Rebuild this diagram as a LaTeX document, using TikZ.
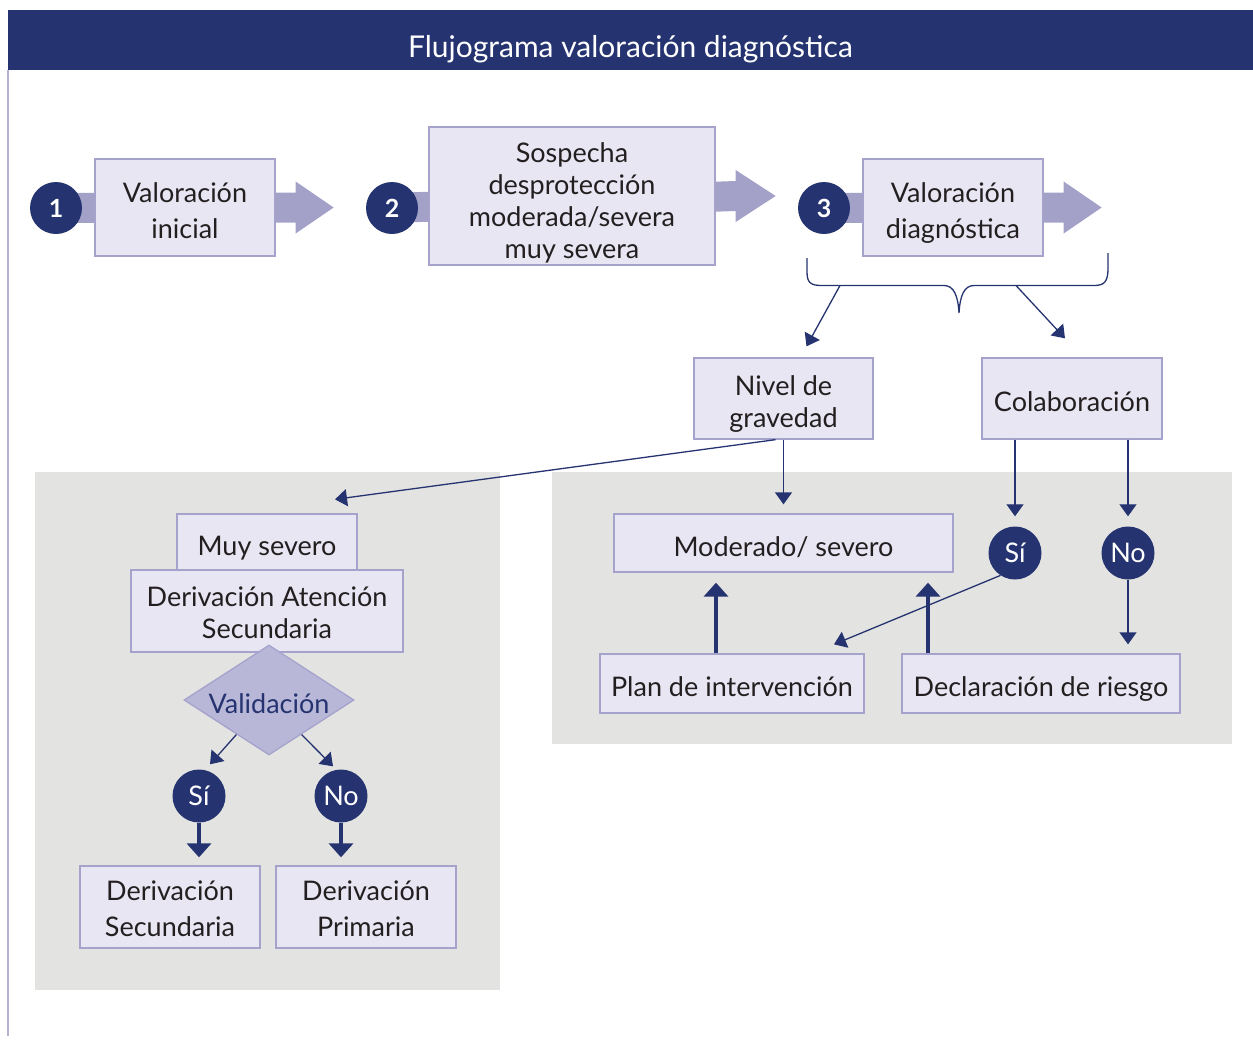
\documentclass[tikz,border=0pt]{standalone}
\usepackage{fontspec}
\setmainfont{Lato}
\usetikzlibrary{arrows.meta,shapes.geometric,calc,backgrounds}

\definecolor{navy}{HTML}{253470}
\definecolor{boxfill}{HTML}{E8E6F2}
\definecolor{boxline}{HTML}{A5A2CC}
\definecolor{barfill}{HTML}{A4A1C9}
\definecolor{panel}{HTML}{E3E3E1}
\definecolor{diafill}{HTML}{B9B7D8}
\definecolor{ink}{HTML}{231F20}
\definecolor{frameline}{HTML}{B3B1D2}

% struts that give a single text line a fixed height and depth
\newcommand\topstrut{\rule{0pt}{34pt}}
\newcommand\botstrut{\rule[-8pt]{0pt}{8pt}}
\newcommand\titletop{\rule{0pt}{42pt}}
% centred block of lines, lowered by #1 without changing its size
\newcommand\linestack[2]{\raisebox{#1}[\height][\depth]{\begin{tabular}{@{}c@{}}#2\end{tabular}}}

\tikzset{
  evenlines/.style={execute at begin node=\topstrut, execute at end node=\botstrut},
  boxbase/.style={draw=boxline, fill=boxfill, line width=1.3pt, inner sep=0pt,
    align=center, text=ink, font=\fontsize{27}{32}\selectfont},
  stepbox/.style={boxbase, evenlines},
  multibox/.style={boxbase},
  tallbox/.style={boxbase, font=\fontsize{27}{36}\selectfont},
  numdot/.style={circle, fill=navy, text=white, inner sep=0pt, minimum size=52pt,
    font=\fontsize{25}{30}\selectfont\bfseries},
  yesno/.style={circle, fill=navy, text=white, inner sep=0pt, minimum size=53pt,
    font=\fontsize{27}{30}\selectfont},
  thinarr/.style={draw=navy, line width=1.3pt, -{Triangle[width=17pt,length=12pt]}},
  thickarr/.style={draw=navy, line width=4pt, -{Triangle[width=24pt,length=14pt]}},
  bracepath/.style={draw=navy, line width=1.3pt},
}

% wide lavender arrow running from a step number through its box
\newcommand\flowbar[3]{%
  \fill[barfill] ($(#1.center)+(0,-15)$) -- ($(#2.east)+(20,-15)$)
    -- ($(#2.east)+(20,-26)$) -- ($(#2.east)+(#3,0)$)
    -- ($(#2.east)+(20,26)$) -- ($(#2.east)+(20,15)$)
    -- ($(#1.center)+(0,15)$) -- cycle;}

\begin{document}
\begin{tikzpicture}[x=1pt,y=-1pt]
\useasboundingbox (0,0) rectangle (1253,1039);

% title bar
\node[fill=navy, text=white, minimum width=1245pt, minimum height=60pt, inner sep=0pt,
  font=\fontsize{30}{32}\selectfont,
  execute at begin node=\titletop, execute at end node=\botstrut]
  (header) at (630.5,40) {Flujograma valoración diagnóstica};
\draw[frameline, line width=1.2pt] (8,70) -- (8,1036);

% step row
\node[tallbox, minimum width=180pt, minimum height=97pt] (b1) at (185,207.5)
  {\linestack{-6pt}{Valoración\\inicial}};
\node[numdot] (c1) at (56,208) {1};
\node[multibox, minimum width=286pt, minimum height=138pt] (b2) at (572,196)
  {\linestack{-8pt}{Sospecha\\desprotección\\moderada/severa\\muy severa}};
\node[numdot] (c2) at (392,208) {2};
\node[tallbox, minimum width=180pt, minimum height=97pt] (b3) at (953,207.5)
  {\linestack{-6pt}{Valoración\\diagnóstica}};
\node[numdot] (c3) at (824,208) {3};

% second level
\node[multibox, minimum width=179pt, minimum height=81pt] (nivel) at (783.5,398.5)
  {\linestack{-7pt}{Nivel de\\gravedad}};
\node[stepbox, minimum width=180pt, minimum height=81pt] (colab) at (1072,398.5) {Colaboración};

% right group
\node[stepbox, minimum width=339pt, minimum height=58pt] (moder) at (783.5,543) {Moderado/ severo};
\node[yesno] (si2) at (1015,553) {Sí};
\node[yesno] (no2) at (1128,553) {No};
\node[stepbox, minimum width=264pt, minimum height=59pt] (plan) at (732,683.5) {Plan de intervención};
\node[stepbox, minimum width=278pt, minimum height=59pt] (decl) at (1041,683.5) {Declaración de riesgo};

% left group
\node[stepbox, minimum width=180pt, minimum height=56pt] (muy) at (267,542) {Muy severo};
\node[multibox, minimum width=272pt, minimum height=82pt] (deras) at (267,611)
  {\linestack{-5pt}{Derivación Atención\\Secundaria}};
\node[diamond, draw=boxline, fill=diafill, line width=1.3pt, inner sep=0pt, aspect=1.55,
  minimum width=170pt, minimum height=110pt, text=navy, font=\fontsize{27}{30}\selectfont]
  (valid) at (269,700) {\raisebox{-13pt}[0pt][0pt]{Validación}};
\node[yesno] (si1) at (199,796) {Sí};
\node[yesno] (no1) at (341,796) {No};
\node[tallbox, minimum width=180pt, minimum height=82pt] (dsec) at (170,907)
  {\linestack{-4pt}{Derivación\\Secundaria}};
\node[tallbox, minimum width=180pt, minimum height=82pt] (dpri) at (366,907)
  {\linestack{-4pt}{Derivación\\Primaria}};

\begin{scope}[on background layer]
  \fill[panel] (35,472) rectangle (500,990);
  \fill[panel] (552,472) rectangle (1232,744);
  \flowbar{c1}{b1}{58}
  \flowbar{c2}{b2}{60}
  \flowbar{c3}{b3}{58}
\end{scope}

% brace under step 3
\coordinate (bl) at (840,285.5);
\coordinate (br) at (1016,285.5);
\draw[bracepath] (807,258) -- (807,272) .. controls (807,283) and (811,285.5) .. (822,285.5)
  -- (944,285.5) .. controls (954,285.5) and (958,296) .. (959,313)
  .. controls (960,296) and (964,285.5) .. (974,285.5)
  -- (1094,285.5) .. controls (1105,285.5) and (1108,281) .. (1108,268) -- (1108,253);
\draw[thinarr] (bl) -- ([xshift=23pt,yshift=11pt]nivel.north);
\draw[thinarr] (br) -- ([xshift=-7pt,yshift=19pt]colab.north);

% connectors from the severity level
\draw[thinarr] ([xshift=-8pt]nivel.south) -- ([xshift=68pt,yshift=14pt]muy.north);
\draw[thinarr] (nivel.south) -- ([yshift=9pt]moder.north);

% connectors from collaboration
\draw[thinarr] (colab.south -| si2.north) -- ([yshift=10pt]si2.north);
\draw[thinarr] (colab.south -| no2.north) -- ([yshift=10pt]no2.north);
\draw[thinarr] (si2.237) -- ([xshift=102pt,yshift=9pt]plan.north);
\draw[thinarr] (no2.south) -- ($(no2.south |- decl.north)+(0,-9)$);
\draw[thickarr] ($(plan.north)+(-16,0)$) -- ($(plan.north |- moder.south)+(-16,10)$);
\draw[thickarr] ($(decl.north)+(-113,0)$) -- ($(decl.north |- moder.south)+(-113,10)$);

% validation branches
\draw[thinarr] ($(valid.west)!0.62!(valid.south)$) -- ([xshift=11pt,yshift=5pt]si1.north);
\draw[thinarr] ($(valid.east)!0.62!(valid.south)$) -- ([xshift=-8pt,yshift=3pt]no1.north);
\draw[thickarr] (si1.south) -- ($(si1.south |- dsec.north)+(0,-8)$);
\draw[thickarr] (no1.south) -- ($(no1.south |- dpri.north)+(0,-8)$);
\end{tikzpicture}
\end{document}
